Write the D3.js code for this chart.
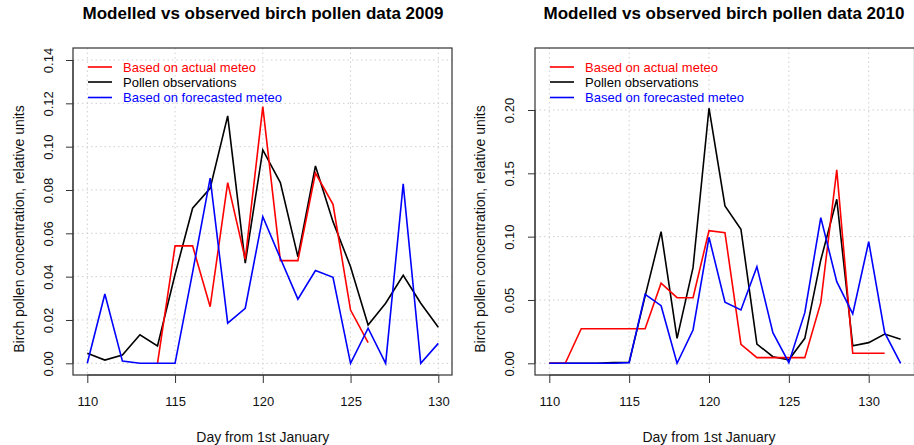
<!DOCTYPE html>
<html>
<head>
<meta charset="utf-8">
<script src="https://cdn.jsdelivr.net/npm/d3@7"></script>
<style>
  html, body { margin: 0; padding: 0; background: #fff; }
  svg { display: block; font-family: "Liberation Sans", Arial, Helvetica, sans-serif; }
</style>
</head>
<body>
<svg id="chart" width="914" height="445"></svg>
<script>
// ---------- data ----------
const days2009 = [110,111,112,113,114,115,116,117,118,119,120,121,122,123,124,125,126,127,128,129,130];
const observed2009 = [0.0046,0.0015,0.0038,0.0132,0.008,0.041,0.0716,0.0808,0.1142,0.0462,0.0985,0.0834,0.0492,0.0911,0.0654,0.0446,0.0177,0.0277,0.0406,0.0277,0.0166];
const actual2009 = [null,null,null,null,0,0.0542,0.0542,0.0261,0.0834,0.048,0.1185,0.0474,0.0474,0.0878,0.0734,0.0246,0.0095,null,null,null,null];
const forecast2009 = [0,0.032,0.001,0,0,0,0.042,0.0855,0.0185,0.0254,0.0677,0.0485,0.0296,0.0428,0.0397,0,0.0162,0,0.0828,0,0.0092];

const days2010 = [110,111,112,113,114,115,116,117,118,119,120,121,122,123,124,125,126,127,128,129,130,131,132];
const observed2010 = [0,0,0,0,0.0005,0.0008,0.053,0.104,0.0197,0.0755,0.2014,0.1243,0.1058,0.0152,0.0052,0.0028,0.0197,0.0816,0.1295,0.0139,0.0163,0.0231,0.019];
const actual2010 = [0,0,0.0273,0.0273,0.0273,0.0273,0.0273,0.0632,0.0518,0.0518,0.1047,0.1032,0.015,0.0045,0.0045,0.0045,0.0045,0.0479,0.1527,0.0079,0.0079,0.0079,null];
const forecast2010 = [0,0,0,0,0,0.0005,0.0545,0.0455,0,0.0263,0.0995,0.0482,0.0421,0.0763,0.0242,0.0005,0.04,0.115,0.0645,0.039,0.096,0.0242,0];

const xTicks = [110,115,120,125,130];
const yTicks2009 = [0,0.02,0.04,0.06,0.08,0.10,0.12,0.14];
const yTicks2010 = [0,0.05,0.10,0.15,0.20];

const legendLabels = ["Based on actual meteo","Pollen observations","Based on forecasted meteo"];
const seriesColors = ["#ff0000","#000000","#0000ff"];
const titles = ["Modelled vs observed birch pollen data 2009","Modelled vs observed birch pollen data 2010"];
const xTitle = "Day from 1st January";
const yTitle = "Birch pollen concentration, relative units";

// ---------- layout ----------
const svg = d3.select("#chart");

const panels = [
  { title: titles[0], days: days2009, obs: observed2009, act: actual2009, fc: forecast2009, yTicks: yTicks2009,
    box: {x0: 73, x1: 452, y0: 48, y1: 375},
    xDom: [110,130], xRange: [87.3, 438.3],
    yDom: [0,0.14], yRange: [363.3, 60.0],
    titleX: 263, tickLabelX: 48, yTitleX: 24, legX: 88 },
  { title: titles[1], days: days2010, obs: observed2010, act: actual2010, fc: forecast2010, yTicks: yTicks2010,
    box: {x0: 535, x1: 914.5, y0: 48, y1: 375},
    xDom: [110,130], xRange: [549.3, 868.7],
    yDom: [0,0.20], yRange: [363.3, 110.0],
    titleX: 724, tickLabelX: 509, yTitleX: 485, legX: 550 }
];

panels.forEach(p => {
  const g = svg.append("g");
  const x = d3.scaleLinear().domain(p.xDom).range(p.xRange);
  const y = d3.scaleLinear().domain(p.yDom).range(p.yRange);
  const b = p.box;

  // grid
  const grid = g.append("g").attr("stroke", "#cfcfcf").attr("stroke-width", 1).attr("stroke-dasharray", "1.5,3");
  xTicks.forEach(t => grid.append("line").attr("x1", x(t)).attr("x2", x(t)).attr("y1", b.y0).attr("y2", b.y1));
  p.yTicks.forEach(t => grid.append("line").attr("x1", b.x0).attr("x2", b.x1).attr("y1", y(t)).attr("y2", y(t)));

  // data lines
  const line = d3.line()
    .defined(d => d[1] !== null)
    .x(d => x(d[0])).y(d => y(d[1]));
  const series = [
    { vals: p.obs, color: seriesColors[1] },
    { vals: p.act, color: seriesColors[0] },
    { vals: p.fc, color: seriesColors[2] }
  ];
  series.forEach(s => {
    g.append("path")
      .datum(p.days.map((d, i) => [d, s.vals[i]]))
      .attr("fill", "none")
      .attr("stroke", s.color)
      .attr("stroke-width", 1.6)
      .attr("stroke-linejoin", "miter")
      .attr("d", line);
  });

  // box
  g.append("rect").attr("x", b.x0).attr("y", b.y0).attr("width", b.x1 - b.x0).attr("height", b.y1 - b.y0)
    .attr("fill", "none").attr("stroke", "#333").attr("stroke-width", 1.2);

  // x axis
  const xa = g.append("g").attr("transform", `translate(0,${b.y1})`)
    .call(d3.axisBottom(x).tickValues(xTicks).tickSize(8).tickPadding(14).tickFormat(d3.format("d")));
  xa.select(".domain").attr("d", `M${x(xTicks[0])},0H${x(xTicks[xTicks.length-1])}`).attr("stroke", "#333");
  xa.selectAll(".tick line").attr("stroke", "#333");
  xa.selectAll("text").attr("font-size", 13).attr("font-family", "Liberation Sans, Arial, sans-serif").attr("fill", "#111");

  // y axis
  const ya = g.append("g").attr("transform", `translate(${b.x0},0)`)
    .call(d3.axisLeft(y).tickValues(p.yTicks).tickSize(7).tickFormat(d3.format(".2f")));
  ya.select(".domain").attr("d", `M0,${y(p.yTicks[0])}V${y(p.yTicks[p.yTicks.length-1])}`).attr("stroke", "#333");
  ya.selectAll(".tick line").attr("stroke", "#333");
  ya.selectAll(".tick text")
    .attr("x", null).attr("dy", null)
    .attr("text-anchor", "middle")
    .attr("font-size", 13).attr("font-family", "Liberation Sans, Arial, sans-serif").attr("fill", "#111")
    .attr("transform", `translate(${p.tickLabelX - b.x0},0) rotate(-90)`)
    .attr("dy", "0.35em");

  // titles
  g.append("text").attr("x", p.titleX).attr("y", 19).attr("text-anchor", "middle")
    .attr("font-size", 17).attr("font-weight", "bold").attr("fill", "#000").text(p.title);
  g.append("text").attr("x", x(120)).attr("y", 442)
    .attr("text-anchor", "middle").attr("font-size", 14).attr("fill", "#111").text(xTitle);
  g.append("text").attr("transform", `translate(${p.yTitleX},229) rotate(-90)`)
    .attr("text-anchor", "middle").attr("font-size", 14).attr("fill", "#111").text(yTitle);

  // legend
  const rows = [67, 82, 97.5];
  legendLabels.forEach((lab, i) => {
    g.append("line").attr("x1", p.legX).attr("x2", p.legX + 24).attr("y1", rows[i]).attr("y2", rows[i])
      .attr("stroke", seriesColors[i]).attr("stroke-width", 1.6);
    g.append("text").attr("x", p.legX + 35).attr("y", rows[i]).attr("dy", "0.35em")
      .attr("font-size", 13).attr("fill", seriesColors[i]).text(lab);
  });
});
</script>
</body>
</html>
